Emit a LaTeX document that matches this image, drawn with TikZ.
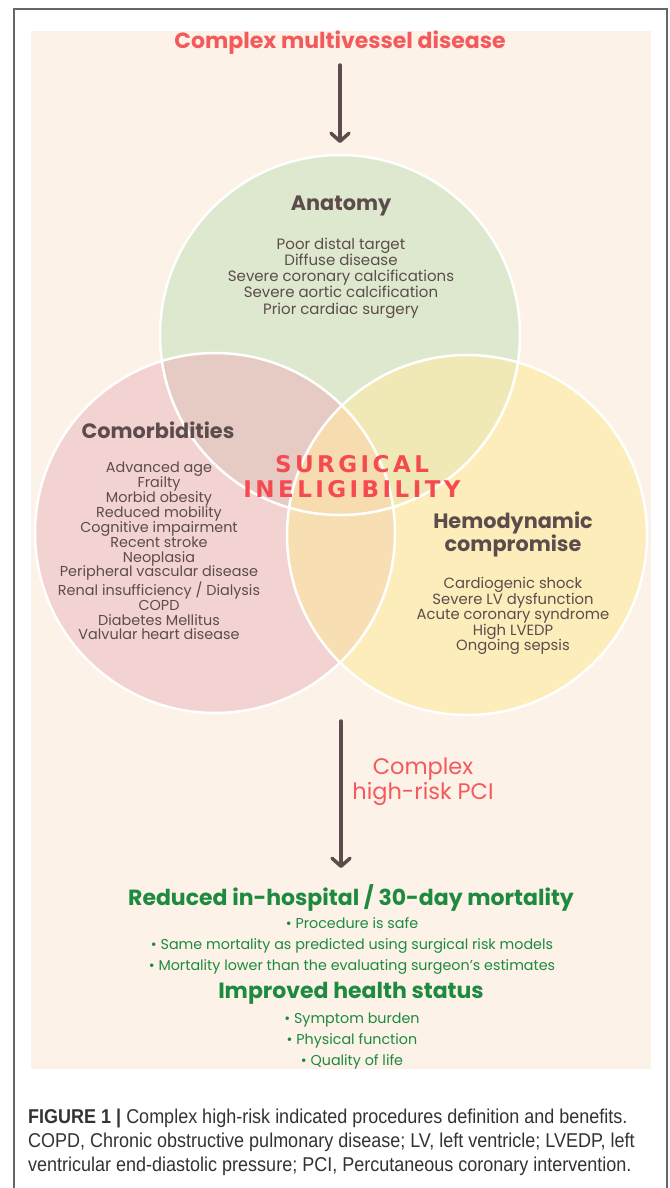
\documentclass[tikz,border=0pt]{standalone}
\usepackage{fontspec}
\setmainfont{Poppins}
\newfontfamily\capfont[FakeStretch=0.9]{Liberation Sans}
\newfontfamily\heavyfont[LetterSpace=15]{DejaVu Sans}
\usetikzlibrary{arrows.meta}
\definecolor{cream}{HTML}{FCF2E8}
\definecolor{ink}{HTML}{5C4C4C}
\definecolor{coral}{HTML}{F4595B}
\definecolor{alarm}{HTML}{F54A4F}
\definecolor{okgreen}{HTML}{1D8A3F}
\definecolor{greenc}{HTML}{DDE8CE}
\definecolor{pinkc}{HTML}{F2D3D2}
\definecolor{yellowc}{HTML}{FCEDBA}
\definecolor{gpc}{HTML}{E6CBC5}
\definecolor{gyc}{HTML}{F0E9B5}
\definecolor{pyc}{HTML}{F8DFB3}
\definecolor{allc}{HTML}{F6DCAF}

\begin{document}
\begin{tikzpicture}[x=1pt,y=-1pt,
  txt/.style={text=ink,align=center,inner sep=0pt},
  head/.style={txt,font=\bfseries\fontsize{20.8}{23}\selectfont},
  items/.style={txt,font=\fontsize{15}{16.3}\selectfont},
  green/.style={text=okgreen,align=center,inner sep=0pt},
  arr/.style={draw=ink,line width=3.5pt,line cap=round,-{Straight Barb[length=8pt,width=18pt,round]}}]
  \useasboundingbox (0,0) rectangle (669,1188);
  \fill[white] (0,0) rectangle (669,1188);
  \draw[gray!80!black,line width=1.2pt] (14,1188) -- (14,9) -- (667,9) -- (667,1188);
  \fill[cream] (31,31) rectangle (651,1069);
  \coordinate (G) at (340,335); \coordinate (P) at (215,533); \coordinate (Y) at (467,535);
  \fill[greenc] (G) circle[radius=180];
  \fill[pinkc] (P) circle[radius=180];
  \fill[yellowc] (Y) circle[radius=180];
  \begin{scope} \clip (G) circle[radius=180]; \fill[gpc] (P) circle[radius=180]; \fill[gyc] (Y) circle[radius=180]; \end{scope}
  \begin{scope} \clip (P) circle[radius=180]; \fill[pyc] (Y) circle[radius=180]; \end{scope}
  \begin{scope} \clip (G) circle[radius=180]; \clip (P) circle[radius=180]; \fill[allc] (Y) circle[radius=180]; \end{scope}
  \foreach \c in {G,P,Y} \draw[white,line width=2.5pt] (\c) circle[radius=180];

  \node[text=coral,inner sep=0pt,font=\bfseries\fontsize{22}{24}\selectfont] (title) at (340,43) {Complex multivessel disease};
  \coordinate (a1top) at (340,65); \coordinate (a1bot) at (340,143);
  \draw[arr] (a1top) -- (a1bot);

  \node[head] (anat) at (341,206) {Anatomy};
  \node[items] (anatlist) at (341,278) {Poor distal target\\Diffuse disease\\Severe coronary calcifications\\Severe aortic calcification\\Prior cardiac surgery};
  \node[head] (comor) at (158,430) {Comorbidities};
  \node[items,font=\fontsize{14.4}{14.9}\selectfont] (comorlist) at (159,551) {Advanced age\\Frailty\\Morbid obesity\\Reduced mobility\\Cognitive impairment\\Recent stroke\\Neoplasia\\Peripheral vascular disease\\Renal insufficiency / Dialysis\\COPD\\Diabetes Mellitus\\Valvular heart disease};
  \node[head] (hemo) at (513,534) {Hemodynamic\\compromise};
  \node[items,font=\fontsize{14.8}{15.5}\selectfont] (hemolist) at (513,616) {Cardiogenic shock\\Severe LV dysfunction\\Acute coronary syndrome\\High LVEDP\\Ongoing sepsis};
  \node[text=alarm,align=center,inner sep=0pt,font=\heavyfont\bfseries\fontsize{23}{25}\selectfont] (inelig) at (352,477) {SURGICAL\\INELIGIBILITY};

  \coordinate (a2top) at (341,721); \coordinate (a2bot) at (341,868);
  \draw[arr] (a2top) -- (a2bot);
  \node[text=coral,align=center,inner sep=0pt,font=\fontsize{22.5}{25}\selectfont] (pci) at (423,782) {Complex\\high-risk PCI};

  \node[green,font=\bfseries\fontsize{22}{24}\selectfont] (mort) at (351,898) {Reduced in-hospital / 30-day mortality};
  \node[green,font=\fontsize{14.3}{21}\selectfont] (mortlist) at (352,946) {\textbullet\ Procedure is safe\\\textbullet\ Same mortality as predicted using surgical risk models\\\textbullet\ Mortality lower than the evaluating surgeon’s estimates};
  \node[green,font=\bfseries\fontsize{22}{24}\selectfont] (health) at (351,993) {Improved health status};
  \node[green,font=\fontsize{14.3}{21}\selectfont] (healthlist) at (352,1041) {\textbullet\ Symptom burden\\\textbullet\ Physical function\\\textbullet\ Quality of life};

  \node[anchor=base west,align=left,inner sep=0pt,text=black!80,font=\capfont\fontsize{20}{24}\selectfont] (caption) at (28,1171) {{\bfseries FIGURE 1 |} Complex high-risk indicated procedures definition and benefits.\\COPD, Chronic obstructive pulmonary disease; LV, left ventricle; LVEDP, left\\ventricular end-diastolic pressure; PCI, Percutaneous coronary intervention.};
\end{tikzpicture}
\end{document}
